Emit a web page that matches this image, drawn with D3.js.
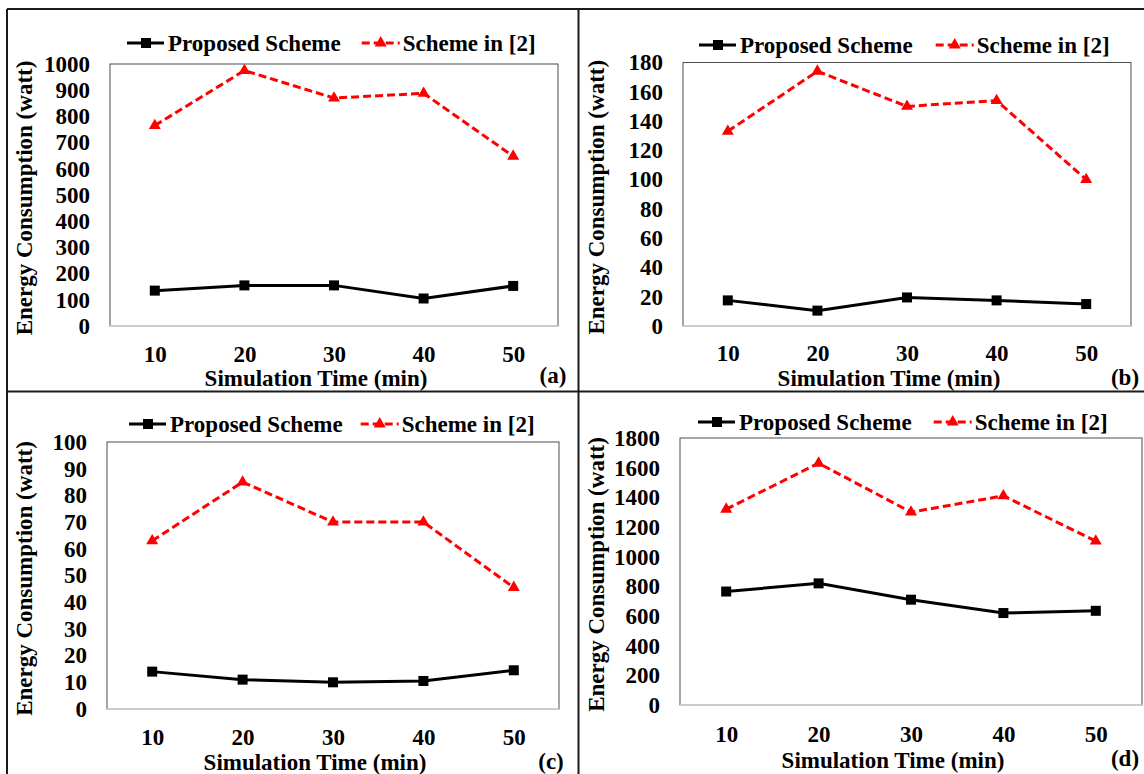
<!DOCTYPE html>
<html>
<head>
<meta charset="utf-8">
<script src="https://cdn.jsdelivr.net/npm/d3@7"></script>
<style>
  body { margin: 0; background: #fff; }
  svg { display: block; }
  text { font-family: "Liberation Serif", "Times New Roman", serif; font-weight: bold; fill: #000; }
</style>
</head>
<body>
<div id="chart"></div>
<script>
const width = 1144, height = 774;

// x categories (simulation time, min)
const times = [10, 20, 30, 40, 50];

// (a)
const proposedA = [135, 155, 155, 105, 153];
const schemeA = [765, 975, 870, 888, 648];
// (b)
const proposedB = [17.5, 10.5, 19.5, 17.5, 15];
const schemeB = [133, 174, 150, 154, 100];
// (c)
const proposedC = [14, 11, 10, 10.5, 14.5];
const schemeC = [63, 85, 70, 70, 45.5];
// (d)
const proposedD = [765, 820, 710, 620, 635];
const schemeD = [1320, 1630, 1300, 1410, 1105];

const yMaxes = [1000, 180, 100, 1800];
const yTickSteps = [100, 20, 10, 200];
const panelLabels = ['(a)', '(b)', '(c)', '(d)'];
const seriesNames = ['Proposed Scheme', 'Scheme in [2]'];
const xTitle = 'Simulation Time (min)';
const yTitle = 'Energy Consumption (watt)';

// layout for each panel (pixels)
const layout = [
  {cellX: 7,   plot: {x: 110, y: 64,  w: 448, h: 262}, legend: [127, 43, 21], tickY: 354, titleY: 378, tag: [553, 375]},
  {cellX: 579, plot: {x: 683, y: 62.5, w: 448, h: 263.5}, legend: [699, 45, 23], tickY: 353, titleY: 378, tag: [1125, 377]},
  {cellX: 7,   plot: {x: 107, y: 442, w: 452, h: 267}, legend: [129, 424, 18], tickY: 737, titleY: 762, tag: [551, 761]},
  {cellX: 579, plot: {x: 680, y: 438, w: 462, h: 267}, legend: [698, 422, 22], tickY: 734, titleY: 760, tag: [1125, 758]}
];

const panels = [
  {proposed: proposedA, scheme: schemeA},
  {proposed: proposedB, scheme: schemeB},
  {proposed: proposedC, scheme: schemeC},
  {proposed: proposedD, scheme: schemeD}
].map((p, i) => Object.assign(p, layout[i], {
  yMax: yMaxes[i], yStep: yTickSteps[i], label: panelLabels[i]
}));

const fontSize = 23;
const red = '#ff0000';
const dash = '8 4';

const svg = d3.select('#chart').append('svg')
    .attr('width', width)
    .attr('height', height);

// table-like frame around the four panels
const frame = svg.append('g').attr('stroke', '#1a1a1a').attr('stroke-width', 2);
frame.append('line').attr('x1', 7).attr('x2', width).attr('y1', 9).attr('y2', 9);
frame.append('line').attr('x1', 7).attr('x2', 7).attr('y1', 9).attr('y2', height);
frame.append('line').attr('x1', 578.5).attr('x2', 578.5).attr('y1', 9).attr('y2', height);
frame.append('line').attr('x1', 7).attr('x2', width).attr('y1', 391.5).attr('y2', 391.5);

const triangle = d3.symbol().type(d3.symbolTriangle).size(62);

panels.forEach(p => {
  const g = svg.append('g');
  const {x, y, w, h} = p.plot;

  const xScale = d3.scalePoint()
      .domain(times)
      .range([x, x + w])
      .padding(0.5);
  const yScale = d3.scaleLinear()
      .domain([0, p.yMax])
      .range([y + h, y]);

  // plot area border
  g.append('rect')
      .attr('x', x).attr('y', y).attr('width', w).attr('height', h)
      .attr('fill', 'none')
      .attr('stroke', '#4d4d4d')
      .attr('stroke-width', 1);
  g.append('line')
      .attr('x1', x).attr('x2', x + w)
      .attr('y1', y + h).attr('y2', y + h)
      .attr('stroke', '#d9d9d9')
      .attr('stroke-width', 1.5);

  // y axis
  const yAxis = d3.axisLeft(yScale)
      .tickValues(d3.range(0, p.yMax + p.yStep / 2, p.yStep))
      .tickFormat(d3.format('d'))
      .tickSize(0)
      .tickPadding(20);
  const ya = g.append('g')
      .attr('transform', `translate(${x},0)`)
      .call(yAxis);
  ya.select('.domain').remove();
  ya.selectAll('text')
      .style('font-size', fontSize + 'px')
      .style('font-family', '"Liberation Serif", serif')
      .style('font-weight', 'bold');

  // x axis labels
  const xAxis = d3.axisBottom(xScale).tickSize(0).tickPadding(0);
  const xa = g.append('g')
      .attr('transform', `translate(0,${p.tickY})`)
      .call(xAxis);
  xa.select('.domain').remove();
  xa.selectAll('text')
      .attr('dy', '0.35em')
      .style('font-size', fontSize + 'px')
      .style('font-family', '"Liberation Serif", serif')
      .style('font-weight', 'bold');

  // axis titles
  g.append('text')
      .attr('x', x + w / 2 - 18)
      .attr('y', p.titleY)
      .attr('dy', '0.35em')
      .attr('text-anchor', 'middle')
      .style('font-size', fontSize + 'px')
      .text(xTitle);

  g.append('text')
      .attr('transform', `translate(${p.cellX + 17},${y + h / 2 + 3}) rotate(-90)`)
      .attr('dy', '0.35em')
      .attr('text-anchor', 'middle')
      .style('font-size', fontSize + 'px')
      .text(yTitle);

  g.append('text')
      .attr('x', p.tag[0])
      .attr('y', p.tag[1])
      .attr('dy', '0.35em')
      .attr('text-anchor', 'middle')
      .style('font-size', fontSize + 'px')
      .text(p.label);

  // lines
  const line = d3.line()
      .x((d, i) => xScale(times[i]))
      .y(d => yScale(d));

  g.append('path')
      .datum(p.scheme)
      .attr('d', line)
      .attr('fill', 'none')
      .attr('stroke', red)
      .attr('stroke-width', 3)
      .attr('stroke-dasharray', dash);

  g.append('path')
      .datum(p.proposed)
      .attr('d', line)
      .attr('fill', 'none')
      .attr('stroke', '#000')
      .attr('stroke-width', 3);

  g.selectAll('rect.marker')
      .data(p.proposed)
      .join('rect')
      .attr('class', 'marker')
      .attr('x', (d, i) => xScale(times[i]) - 5)
      .attr('y', d => yScale(d) - 5)
      .attr('width', 10)
      .attr('height', 10)
      .attr('fill', '#000');

  g.selectAll('path.tri')
      .data(p.scheme)
      .join('path')
      .attr('class', 'tri')
      .attr('d', triangle)
      .attr('transform', (d, i) => `translate(${xScale(times[i])},${yScale(d)})`)
      .attr('fill', red);

  // legend
  const [lx, ly, gap] = p.legend;
  const lg = g.append('g').attr('transform', `translate(${lx},${ly})`);
  const item1 = lg.append('g');
  item1.append('line')
      .attr('x1', 0).attr('x2', 37).attr('y1', 0).attr('y2', 0)
      .attr('stroke', '#000').attr('stroke-width', 3);
  item1.append('rect')
      .attr('x', 14).attr('y', -5).attr('width', 10).attr('height', 10)
      .attr('fill', '#000');
  const t1 = item1.append('text')
      .attr('x', 41).attr('dy', '0.35em')
      .style('font-size', fontSize + 'px')
      .text(seriesNames[0]);
  const w1 = 41 + t1.node().getComputedTextLength();

  const item2 = lg.append('g').attr('transform', `translate(${w1 + gap},0)`);
  item2.append('line')
      .attr('x1', 0).attr('x2', 38).attr('y1', 0).attr('y2', 0)
      .attr('stroke', red).attr('stroke-width', 3)
      .attr('stroke-dasharray', dash);
  item2.append('path')
      .attr('d', triangle)
      .attr('transform', 'translate(19,0)')
      .attr('fill', red);
  item2.append('text')
      .attr('x', 41).attr('dy', '0.35em')
      .style('font-size', fontSize + 'px')
      .text(seriesNames[1]);
});
</script>
</body>
</html>
